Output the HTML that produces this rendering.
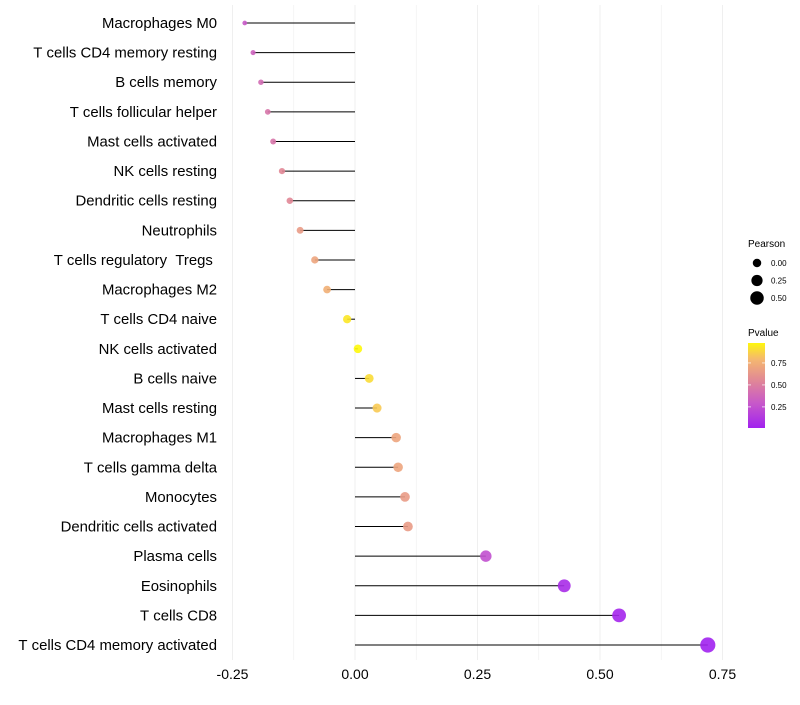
<!DOCTYPE html>
<html><head><meta charset="utf-8"><style>
body{margin:0;background:#fff;font-family:"Liberation Sans",sans-serif}
text{white-space:pre}
</style></head><body>
<svg id="c" width="800" height="700" xmlns="http://www.w3.org/2000/svg"></svg>
<script>
const categories=["Macrophages M0","T cells CD4 memory resting","B cells memory","T cells follicular helper","Mast cells activated","NK cells resting","Dendritic cells resting","Neutrophils","T cells regulatory  Tregs ","Macrophages M2","T cells CD4 naive","NK cells activated","B cells naive","Mast cells resting","Macrophages M1","T cells gamma delta","Monocytes","Dendritic cells activated","Plasma cells","Eosinophils","T cells CD8","T cells CD4 memory activated"];
const pearson=[-0.225,-0.208,-0.192,-0.178,-0.167,-0.149,-0.133,-0.112,-0.082,-0.057,-0.016,0.006,0.029,0.045,0.084,0.088,0.102,0.108,0.267,0.427,0.539,0.72];
const pvalue=[0.3,0.35,0.4,0.45,0.45,0.55,0.55,0.65,0.7,0.75,0.93,0.98,0.9,0.85,0.7,0.7,0.65,0.65,0.25,0.06,0.03,0.01];
const xTicks=[-0.25,0,0.25,0.5,0.75];
const xTickLabels=["-0.25","0.00","0.25","0.50","0.75"];
const sizeLegend=[0,0.25,0.5];
const colorTicks=[0.25,0.5,0.75];
const NS="http://www.w3.org/2000/svg";
const svg=document.getElementById('c');
function el(t,a,p){const e=document.createElementNS(NS,t);for(const k in a)e.setAttribute(k,a[k]);(p||svg).appendChild(e);return e;}
const X=v=>355+v*490;
const Y=i=>23+i*(622/21);
const R=v=>Math.sqrt(Math.max(18+55*v,4));
const stops=[[0,[160,32,240]],[0.3,[200,90,200]],[0.55,[225,135,150]],[0.8,[245,185,110]],[1,[255,255,0]]];
function col(p){for(let i=1;i<stops.length;i++){if(p<=stops[i][0]){const a=stops[i-1],b=stops[i],t=(p-a[0])/(b[0]-a[0]);return 'rgb('+a[1].map((c,j)=>Math.round(c+(b[1][j]-c)*t)).join(',')+')';}}return 'rgb(255,255,0)';}
for(let v=-0.25;v<=0.76;v+=0.125){const g=el('line',{x1:X(v),x2:X(v),y1:5,y2:660,stroke:'#efefef','stroke-width':Math.abs((v*8)%2)>0.5?0.6:1});
}
xTicks.forEach((v,i)=>{const t=el('text',{x:X(v),y:679,'text-anchor':'middle','font-size':14,fill:'#000'});t.textContent=xTickLabels[i];
});
categories.forEach((c,i)=>{
const t=el('text',{x:217,y:Y(i)+5,'text-anchor':'end','font-size':14.9,fill:'#000'});t.textContent=c.replace(/ /g,'\u00a0');

const l=el('line',{x1:X(0),x2:X(pearson[i]),y1:Y(i),y2:Y(i),stroke:'#000','stroke-width':1});

const p=el('circle',{cx:X(pearson[i]),cy:Y(i),r:R(pearson[i]),fill:col(pvalue[i]),'fill-opacity':0.9});

});
const lt=el('text',{x:748,y:247,'font-size':10});lt.textContent='Pearson';
sizeLegend.forEach((v,i)=>{const y=263+i*17.5;const c=el('circle',{cx:757,cy:y,r:R(v),fill:'#000'});
const t=el('text',{x:771,y:y+3,'font-size':8});t.textContent=v.toFixed(2);});
const ct=el('text',{x:748,y:336,'font-size':10});ct.textContent='Pvalue';
const defs=el('defs',{});const g=el('linearGradient',{id:'gr',x1:0,y1:1,x2:0,y2:0},defs);
const cTop=0.977,cBot=0.01;
for(let k=0;k<=20;k++){const p=cBot+(cTop-cBot)*k/20;el('stop',{offset:k/20,'stop-color':col(p)},g);}
const bar=el('rect',{x:748,y:343,width:17,height:85,fill:'url(#gr)'});
colorTicks.forEach(v=>{const y=428-(v-cBot)/(cTop-cBot)*85;
el('line',{x1:748,x2:751,y1:y,y2:y,stroke:'#fff','stroke-width':0.7});el('line',{x1:762,x2:765,y1:y,y2:y,stroke:'#fff','stroke-width':0.7});
const t=el('text',{x:771,y:y+3,'font-size':8});t.textContent=v.toFixed(2);});
</script>
</body></html>
